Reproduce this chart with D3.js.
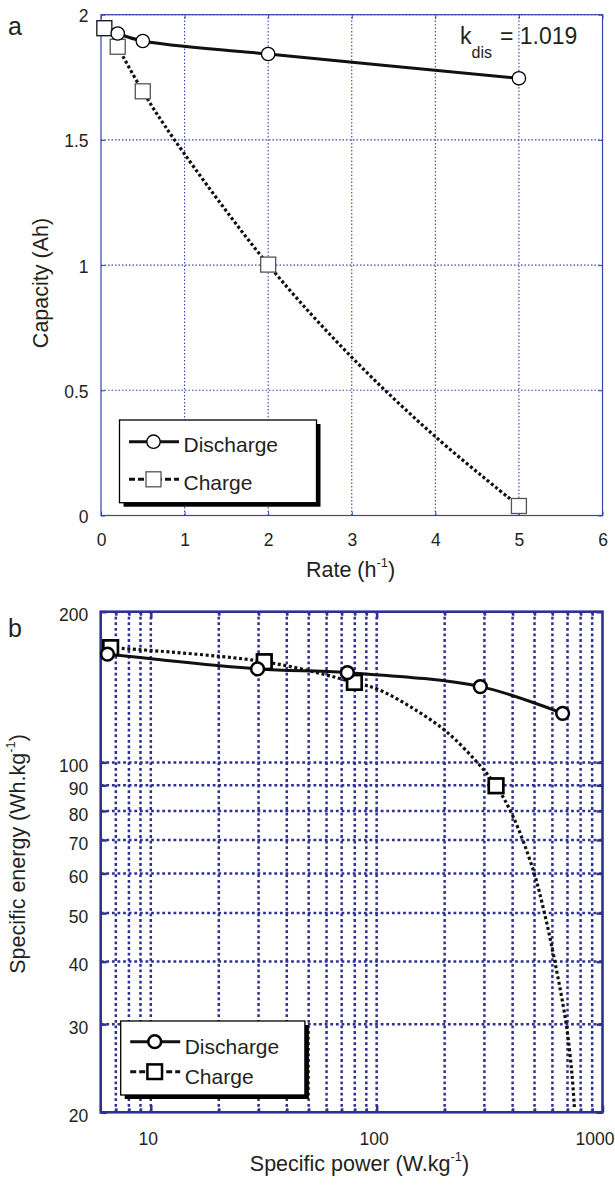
<!DOCTYPE html>
<html>
<head>
<meta charset="utf-8">
<script src="https://cdn.jsdelivr.net/npm/d3@7"></script>
<style>
  html, body { margin: 0; padding: 0; background: #fff; }
  svg { display: block; font-family: "Liberation Sans", Arial, sans-serif; }
  text { fill: #231f20; }
</style>
</head>
<body>
<svg id="chart" width="615" height="1185"></svg>
<script>
// ---------- Data: panel a (capacity vs rate) ----------
const rateDis = [0.2, 0.5, 2, 5];
const capDis  = [1.925, 1.895, 1.843, 1.746];
const rateChg = [0.04, 0.2, 0.5, 2, 5];
const capChg  = [1.946, 1.872, 1.694, 1.002, 0.038];
// dotted charge trend as it is drawn in the figure
const rateChgFit = [0.2, 0.5, 0.88, 2, 3, 4, 5];
const capChgFit  = [1.872, 1.694, 1.5, 1.002, 0.632, 0.315, 0.038];
const rateTicks = [0, 1, 2, 3, 4, 5, 6];
const capTicks  = [0, 0.5, 1, 1.5, 2];
const kdisValue = "1.019";

// ---------- Data: panel b (specific energy vs power) ----------
const powDis = [6.43, 29.7, 74.2, 287.7, 666];
const enDis  = [164.6, 153.7, 151.1, 141.7, 125.3];
const powChg = [6.64, 31.8, 79.7, 337.8];
const enChg  = [169.5, 158.9, 144.5, 89.8];
const powChgFit = [6.64, 31.8, 79.7, 103, 145, 204, 277, 337.8, 402, 493, 554, 613, 690, 732, 751];
const enChgFit  = [169.5, 158.9, 144.5, 139.5, 128.2, 115.1, 100.3, 89.8, 77.9, 61, 49.9, 40.3, 30.1, 23.9, 20.4];
const powGrid   = [7, 8, 9, 10, 20, 30, 40, 50, 60, 70, 80, 90, 100, 200, 300, 400, 500, 600, 700, 800, 900];
const powLabels = [10, 100, 1000];
const enTicks   = [20, 30, 40, 50, 60, 70, 80, 90, 100, 200];

const legendNames = ["Discharge", "Charge"];

// ---------- Setup ----------
const svg = d3.select("#chart");
const navy = "#2e3192", blueA = "#3444b4", ink = "#111";
const TICK_FS = 17.5, LABEL_FS = 21.5;

function supLabel(g, x, y, pre, sup, post, rotate) {
  const t = g.append("text")
    .attr("text-anchor", "middle")
    .attr("font-size", LABEL_FS)
    .attr("transform", rotate ? `translate(${x},${y}) rotate(-90)` : `translate(${x},${y})`);
  t.append("tspan").text(pre);
  t.append("tspan").attr("font-size", LABEL_FS * 0.6).attr("dy", -LABEL_FS * 0.45).text(sup);
  t.append("tspan").attr("dy", LABEL_FS * 0.45).text(post);
}

function drawLegend(g, box, shadow, lineW, markStroke, chgStroke) {
  g.append("rect").attr("x", box.x + shadow).attr("y", box.y + shadow)
    .attr("width", box.w).attr("height", box.h).attr("fill", "#000");
  g.append("rect").attr("x", box.x).attr("y", box.y)
    .attr("width", box.w).attr("height", box.h)
    .attr("fill", "#fff").attr("stroke", "#000").attr("stroke-width", 1.3);
  legendNames.forEach((name, i) => {
    const ry = box.rows[i];
    g.append("line").attr("x1", box.x + 9.5).attr("x2", box.x + 59.5)
      .attr("y1", ry).attr("y2", ry)
      .attr("stroke", ink).attr("stroke-width", lineW)
      .attr("stroke-dasharray", i ? "6,3" : null);
    const mx = box.x + 34;
    if (i === 0) {
      g.append("circle").attr("cx", mx).attr("cy", ry).attr("r", box.r)
        .attr("fill", "#fff").attr("stroke", "#000").attr("stroke-width", markStroke);
    } else {
      g.append("rect").attr("x", mx - box.s / 2).attr("y", ry - box.s / 2)
        .attr("width", box.s).attr("height", box.s)
        .attr("fill", "#fff").attr("stroke", chgStroke).attr("stroke-width", markStroke);
    }
    g.append("text").attr("x", box.x + 64).attr("y", ry + box.dy)
      .attr("font-size", 21).text(name);
  });
}

// ---------- Panel a ----------
{
  const P = { l: 101, r: 602.5, t: 14.7, b: 515.5 };
  const x = d3.scaleLinear().domain([0, 6]).range([P.l, P.r]);
  const y = d3.scaleLinear().domain([0, 2]).range([P.b, P.t]);
  const g = svg.append("g");

  // grid
  g.selectAll(".vg").data(rateTicks.slice(1, -1)).join("line")
    .attr("x1", d => x(d)).attr("x2", d => x(d)).attr("y1", P.b).attr("y2", P.t)
    .attr("stroke", blueA).attr("stroke-width", 1.1).attr("stroke-dasharray", "1.5,2");
  g.selectAll(".hg").data(capTicks.slice(1)).join("line")
    .attr("x1", P.l).attr("x2", P.r).attr("y1", d => y(d)).attr("y2", d => y(d))
    .attr("stroke", blueA).attr("stroke-width", 1.1).attr("stroke-dasharray", "1.5,2");

  // axes
  g.append("g").attr("transform", `translate(0,${P.b})`)
    .call(d3.axisBottom(x).tickValues(rateTicks).tickSizeInner(-4).tickSizeOuter(0).tickPadding(18)
      .tickFormat(d => String(d)));
  const ay = g.append("g").attr("transform", `translate(${P.l},0)`)
    .call(d3.axisLeft(y).tickValues(capTicks).tickSizeInner(-4).tickSizeOuter(0).tickPadding(12.5)
      .tickFormat(d => String(d)));
  g.append("g").attr("transform", `translate(0,${P.t})`)
    .call(d3.axisTop(x).tickValues(rateTicks).tickSizeInner(-4).tickSizeOuter(0).tickFormat(""));
  g.append("g").attr("transform", `translate(${P.r},0)`)
    .call(d3.axisRight(y).tickValues(capTicks).tickSizeInner(-4).tickSizeOuter(0).tickFormat(""));
  g.selectAll(".domain").remove();
  g.selectAll(".tick line").attr("stroke", blueA).attr("stroke-width", 1);
  g.selectAll(".tick text").attr("font-size", TICK_FS).attr("fill", "#231f20")
    .attr("font-family", "Liberation Sans, Arial, sans-serif");
  ay.selectAll(".tick text").attr("dy", "0.4em");

  // frame
  g.append("rect").attr("x", P.l).attr("y", P.t).attr("width", P.r - P.l).attr("height", P.b - P.t)
    .attr("fill", "none").attr("stroke", blueA).attr("stroke-width", 1.2);

  // lines
  const line = d3.line().x(d => x(d[0])).y(d => y(d[1])).curve(d3.curveCatmullRom);
  g.append("path").datum(d3.zip(rateChgFit, capChgFit)).attr("d", line)
    .attr("fill", "none").attr("stroke", ink).attr("stroke-width", 3.2).attr("stroke-dasharray", "3,2.4");
  g.append("path").datum(d3.zip(rateDis, capDis)).attr("d", line)
    .attr("fill", "none").attr("stroke", ink).attr("stroke-width", 3);

  // markers
  g.selectAll(".sq").data(d3.zip(rateChg, capChg)).join("rect")
    .attr("x", d => x(d[0]) - 7.5).attr("y", d => y(d[1]) - 7.5)
    .attr("width", 15).attr("height", 15)
    .attr("fill", "#fff").attr("stroke", (d, i) => i === 0 ? "#111" : "#555").attr("stroke-width", 1.3);
  g.selectAll(".ci").data(d3.zip(rateDis, capDis)).join("circle")
    .attr("cx", d => x(d[0])).attr("cy", d => y(d[1])).attr("r", 6.7)
    .attr("fill", "#fff").attr("stroke", "#000").attr("stroke-width", 1.3);

  // k_dis annotation
  g.append("text").attr("x", 460).attr("y", 44.3).attr("font-size", 23).text("k");
  g.append("text").attr("x", 471.5).attr("y", 57.5).attr("font-size", 16).text("dis");
  g.append("text").attr("x", 500).attr("y", 44.3).attr("font-size", 23).text("= " + kdisValue);

  // labels
  g.append("text").attr("x", 8).attr("y", 35).attr("font-size", 25).text("a");
  supLabel(g, 350.5, 577, "Rate (h", "-1", ")", false);
  g.append("text").attr("text-anchor", "middle").attr("font-size", LABEL_FS)
    .attr("transform", `translate(48,283) rotate(-90)`).text("Capacity (Ah)");

  drawLegend(g, { x: 119.5, y: 420, w: 197, h: 82.7, rows: [441.7, 479.3], dy: 10.3, r: 6.7, s: 15 },
    4, 3, 1.3, "#555");
}

// ---------- Panel b ----------
{
  const P = { l: 100.7, r: 602.5, t: 611.7, b: 1112.3 };
  const x = d3.scaleLog().domain([6, 1000]).range([P.l, P.r]);
  const y = d3.scaleLog().domain([20, 200]).range([P.b, P.t]);
  const g = svg.append("g");

  // grid
  g.selectAll(".vg").data(powGrid).join("line")
    .attr("x1", d => x(d)).attr("x2", d => x(d)).attr("y1", P.b).attr("y2", P.t)
    .attr("stroke", navy).attr("stroke-width", 2.5).attr("stroke-dasharray", "2.8,2.8");
  g.selectAll(".hg").data(enTicks.slice(1, -1)).join("line")
    .attr("x1", P.l).attr("x2", P.r).attr("y1", d => y(d)).attr("y2", d => y(d))
    .attr("stroke", navy).attr("stroke-width", 2.5).attr("stroke-dasharray", "2.8,2.8");

  // axes
  const isMajor = d => powLabels.includes(d);
  const ax = g.append("g").attr("transform", `translate(0,${P.b})`)
    .call(d3.axisBottom(x).tickValues(powGrid.concat([1000])).tickSizeInner(-4).tickSizeOuter(0).tickPadding(20.5)
      .tickFormat(d => isMajor(d) ? String(d) : ""));
  const ay = g.append("g").attr("transform", `translate(${P.l},0)`)
    .call(d3.axisLeft(y).tickValues(enTicks).tickSizeInner(-6).tickSizeOuter(0).tickPadding(12.4)
      .tickFormat(d => String(d)));
  const axT = g.append("g").attr("transform", `translate(0,${P.t})`)
    .call(d3.axisTop(x).tickValues(powGrid).tickSizeInner(-4).tickSizeOuter(0).tickFormat(""));
  g.append("g").attr("transform", `translate(${P.r},0)`)
    .call(d3.axisRight(y).tickValues(enTicks).tickSizeInner(-6).tickSizeOuter(0).tickFormat(""));
  g.selectAll(".domain").remove();
  g.selectAll(".tick line").attr("stroke", navy).attr("stroke-width", 2.5);
  [ax, axT].forEach(a => a.selectAll(".tick line").attr("y2", d => (isMajor(d) ? 7 : 4) * (a === ax ? -1 : 1)));
  g.selectAll(".tick text").attr("font-size", TICK_FS).attr("fill", "#231f20")
    .attr("font-family", "Liberation Sans, Arial, sans-serif");
  ay.selectAll(".tick text").attr("dy", "0.52em");
  ax.selectAll(".tick text").attr("dx", d => d === 1000 ? -8 : -3);

  // frame
  g.append("rect").attr("x", P.l).attr("y", P.t).attr("width", P.r - P.l).attr("height", P.b - P.t)
    .attr("fill", "none").attr("stroke", navy).attr("stroke-width", 2.6);

  // lines
  const line = d3.line().x(d => x(d[0])).y(d => y(d[1])).curve(d3.curveCatmullRom);
  g.append("path").datum(d3.zip(powChgFit, enChgFit)).attr("d", line)
    .attr("fill", "none").attr("stroke", ink).attr("stroke-width", 3.2).attr("stroke-dasharray", "3,2.6");
  g.append("path").datum(d3.zip(powDis, enDis)).attr("d", line)
    .attr("fill", "none").attr("stroke", ink).attr("stroke-width", 3);

  // markers
  g.selectAll(".sq").data(d3.zip(powChg, enChg)).join("rect")
    .attr("x", d => x(d[0]) - 7.3).attr("y", d => y(d[1]) - 7.3)
    .attr("width", 14.6).attr("height", 14.6)
    .attr("fill", "#fff").attr("stroke", "#000").attr("stroke-width", 2.7);
  g.selectAll(".ci").data(d3.zip(powDis, enDis)).join("circle")
    .attr("cx", d => x(d[0])).attr("cy", d => y(d[1])).attr("r", 6.4)
    .attr("fill", "#fff").attr("stroke", "#000").attr("stroke-width", 2.5);

  // labels
  g.append("text").attr("x", 8).attr("y", 636.7).attr("font-size", 25).text("b");
  supLabel(g, 359.5, 1171, "Specific power (W.kg", "-1", ")", false);
  supLabel(g, 25, 854, "Specific energy (Wh.kg", "-1", ")", true);

  drawLegend(g, { x: 120.7, y: 1021, w: 184.2, h: 74, rows: [1041.7, 1071.7], dy: 12, r: 6.4, s: 14.6 },
    4, 3, 2.5, "#000");
}
</script>
</body>
</html>
